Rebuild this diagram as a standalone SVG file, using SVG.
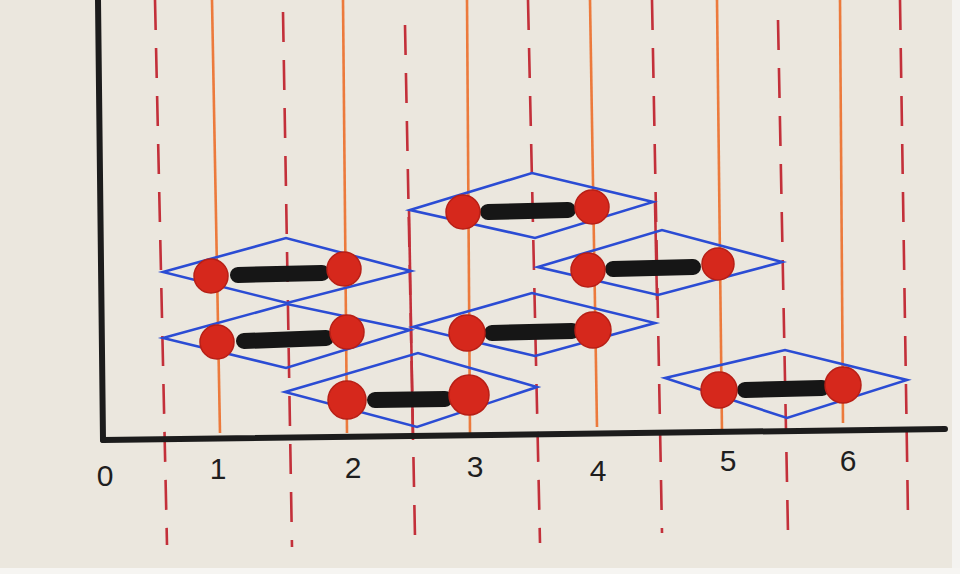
<svg xmlns="http://www.w3.org/2000/svg" width="960" height="574" viewBox="0 0 960 574">
<style>
.dash{stroke:#c3303a;stroke-width:2.6;stroke-dasharray:30 18;fill:none}
.sol{stroke:#c3303a;stroke-width:2.6;fill:none}
.org{stroke:#ec7a3c;stroke-width:2.6;fill:none}
.dia{fill:none;stroke:#2b4cd4;stroke-width:2.6;stroke-linejoin:miter}
.atom{fill:#d6281c;stroke:#b81f16;stroke-width:1.5}
.bond{stroke:#161616;stroke-width:16;stroke-linecap:round}
.lbl{font-family:"Liberation Sans",Arial,sans-serif;font-size:30px;fill:#1e1e1e;text-anchor:middle}
</style>
<rect x="0" y="0" width="960" height="574" fill="#ebe7de"/>
<rect x="952" y="0" width="8" height="574" fill="#f4f3f0"/>
<rect x="0" y="568" width="960" height="6" fill="#f6f5f2"/>

<g id="boundaries">
<line class="dash" x1="155" y1="0" x2="167" y2="545"/>
<line class="dash" x1="283" y1="12" x2="292" y2="547"/>
<line class="dash" x1="405" y1="25" x2="415" y2="537"/>
<line class="dash" x1="528" y1="0" x2="540" y2="543"/>
<line class="dash" x1="652" y1="0" x2="662" y2="533"/>
<line class="dash" x1="778" y1="20" x2="788" y2="533"/>
<line class="dash" x1="900" y1="0" x2="908" y2="517"/>
<line class="sol" x1="409" y1="210" x2="413" y2="440"/>
<line class="sol" x1="655" y1="202" x2="657" y2="300"/>
</g>

<g id="centers">
<line class="org" x1="212" y1="0" x2="220" y2="433"/>
<line class="org" x1="343" y1="0" x2="347" y2="433"/>
<line class="org" x1="467" y1="0" x2="470" y2="433"/>
<line class="org" x1="590" y1="0" x2="597" y2="427"/>
<line class="org" x1="717" y1="0" x2="722" y2="433"/>
<line class="org" x1="840" y1="0" x2="843" y2="423"/>
</g>

<g id="axes">
<line x1="98" y1="0" x2="103" y2="440" stroke="#1c1c1c" stroke-width="6" stroke-linecap="round"/>
<line x1="103" y1="440" x2="945" y2="429" stroke="#1c1c1c" stroke-width="6" stroke-linecap="round"/>
</g>

<g id="molA">
<polygon class="dia" points="163,272 286,238 411,271 287,303"/>
<line class="bond" x1="238" y1="275" x2="322" y2="273"/>
<circle class="atom" cx="211" cy="276" r="17"/>
<circle class="atom" cx="344" cy="269" r="17"/>
</g>
<g id="molB">
<polygon class="dia" points="163,338 287,304 410,330 286,368"/>
<line class="bond" x1="244" y1="341" x2="326" y2="338"/>
<circle class="atom" cx="217" cy="342" r="17"/>
<circle class="atom" cx="347" cy="332" r="17"/>
</g>
<g id="molC">
<polygon class="dia" points="285,392 418,353 537,387 417,427"/>
<line class="bond" x1="375" y1="400" x2="445" y2="399"/>
<circle class="atom" cx="347" cy="400" r="19"/>
<circle class="atom" cx="469" cy="395" r="20"/>
</g>
<g id="molD">
<polygon class="dia" points="410,210 532,173 653,202 535,238"/>
<line class="bond" x1="488" y1="212" x2="568" y2="210"/>
<circle class="atom" cx="463" cy="212" r="17"/>
<circle class="atom" cx="592" cy="207" r="17"/>
</g>
<g id="molE">
<polygon class="dia" points="538,267 662,230 782,262 658,295"/>
<line class="bond" x1="613" y1="269" x2="693" y2="267"/>
<circle class="atom" cx="588" cy="270" r="17"/>
<circle class="atom" cx="718" cy="264" r="16"/>
</g>
<g id="molF">
<polygon class="dia" points="413,327 532,293 655,323 535,356"/>
<line class="bond" x1="492" y1="333" x2="572" y2="331"/>
<circle class="atom" cx="467" cy="333" r="18"/>
<circle class="atom" cx="593" cy="330" r="18"/>
</g>
<g id="molG">
<polygon class="dia" points="665,378 785,350 907,380 787,418"/>
<line class="bond" x1="745" y1="390" x2="822" y2="388"/>
<circle class="atom" cx="719" cy="390" r="18"/>
<circle class="atom" cx="843" cy="385" r="18"/>
</g>

<g id="labels">
<text class="lbl" x="105" y="486">0</text>
<text class="lbl" x="218" y="479">1</text>
<text class="lbl" x="353" y="478">2</text>
<text class="lbl" x="475" y="477">3</text>
<text class="lbl" x="598" y="481">4</text>
<text class="lbl" x="728" y="471">5</text>
<text class="lbl" x="848" y="471">6</text>
</g>
</svg>
